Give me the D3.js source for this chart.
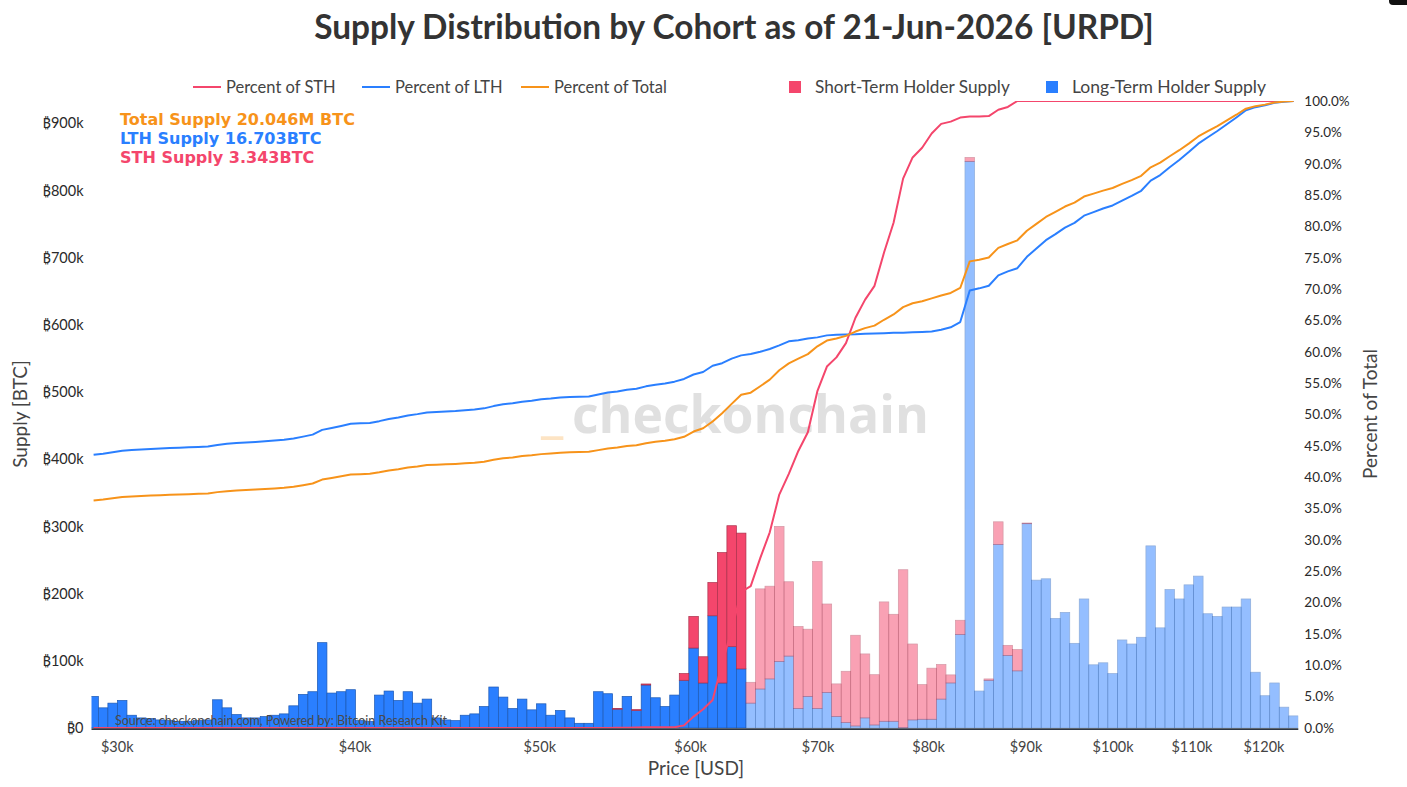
<!DOCTYPE html>
<html>
<head>
<meta charset="utf-8">
<title>Supply Distribution by Cohort [URPD]</title>
<script src="https://d3js.org/d3.v7.min.js"></script>
<style>
  body { margin: 0; background: #fff; }
  svg text { font-family: Lato, "Noto Sans", "DejaVu Sans", sans-serif; }
</style>
</head>
<body>
<div id="chart"></div>
<script>
// price bins (bin centre, USD) – log spaced buckets
const binPrices = [
  29174, 29512, 29854, 30200, 30549, 30903, 31261, 31623, 31989, 32359,
  32734, 33113, 33497, 33884, 34277, 34674, 35075, 35481, 35892, 36308,
  36728, 37154, 37584, 38019, 38459, 38905, 39355, 39811, 40272, 40738,
  41210, 41687, 42170, 42658, 43152, 43652, 44157, 44668, 45186, 45709,
  46238, 46774, 47315, 47863, 48417, 48978, 49545, 50119, 50699, 51286,
  51880, 52481, 53088, 53703, 54325, 54954, 55590, 56234, 56885, 57544,
  58210, 58884, 59566, 60256, 60954, 61660, 62373, 63096, 63826, 64565,
  65313, 66069, 66834, 67608, 68391, 69183, 69984, 70795, 71614, 72444,
  73282, 74131, 74989, 75858, 76736, 77625, 78524, 79433, 80353, 81283,
  82224, 83176, 84140, 85114, 86099, 87096, 88105, 89125, 90157, 91201,
  92257, 93325, 94406, 95499, 96605, 97724, 98855, 100000, 101158, 102329,
  103514, 104713, 105925, 107152, 108393, 109648, 110917, 112202, 113501, 114815,
  116145, 117490, 118850, 120226, 121619, 123027, 124451
];

// long-term holder supply per bin, thousand BTC
const lthSupplyK = [
  47, 30, 37, 41, 19, 15, 14, 12, 11, 10,
  10, 11, 12, 42, 30, 20, 15, 15, 17, 19,
  21, 33, 50, 54, 127, 52, 54, 57, 11, 10,
  49, 55, 41, 54, 37, 43, 15, 12, 11, 19,
  21, 32, 61, 46, 29, 43, 27, 36, 19, 26,
  15, 7, 7, 54, 51, 28, 47, 26, 64, 45,
  32, 49, 71, 119, 67, 167, 67, 121, 88, 37,
  58, 73, 99, 107, 29, 47, 29, 53, 17, 8,
  3, 15, 4.5, 10, 10, 0.5, 12, 13, 13, 43,
  67, 139, 843, 55, 71, 273, 108, 85, 304, 220,
  222, 163, 172, 126, 192, 94, 97, 81, 131, 125,
  135, 271, 149, 206, 192, 213, 226, 170, 166, 180,
  180, 192, 83, 48, 67, 31, 18
];

// short-term holder supply per bin, thousand BTC
const sthSupplyK = [
  0, 0, 0, 0, 0, 0, 0, 0, 0, 0,
  0, 0, 0, 0, 0, 0, 0, 0, 0, 0,
  0, 0, 0, 0, 0, 0, 0, 0, 0, 0,
  0, 0, 0, 0, 0, 0, 0, 0, 0, 0,
  0, 0, 0, 0, 0, 0, 0, 0, 0, 0,
  0, 0, 0, 0, 0, 1, 0, 1.5, 1.5, 0,
  0, 0, 10, 47, 39, 49.5, 194, 180, 202, 31,
  149, 138, 201, 110.6, 122, 100, 218.7, 131.5, 48.6, 76.4,
  135, 95.2, 74.8, 177.6, 159.2, 235, 113, 51.5, 76, 51.5,
  12, 21.3, 6, 0, 2, 33.8, 15, 31.7, 1, 0,
  0, 0, 0, 0, 0, 0, 0, 0, 0, 0,
  0, 0, 0, 0, 0, 0, 0, 0, 0, 0,
  0, 0, 0, 0, 0, 0, 0
];

// cumulative percentages per bin (right axis)
const sthPct = [
  0, 0, 0, 0, 0, 0, 0, 0, 0, 0,
  0, 0, 0, 0, 0, 0, 0, 0, 0, 0,
  0, 0, 0, 0, 0, 0, 0, 0, 0, 0,
  0, 0, 0, 0, 0, 0, 0, 0, 0, 0,
  0, 0, 0, 0, 0, 0, 0, 0, 0, 0,
  0, 0, 0, 0, 0, 0.03, 0.03, 0.07, 0.12, 0.12,
  0.12, 0.12, 0.42, 1.82, 2.99, 4.47, 10.27, 15.66, 21.70, 22.63,
  27.09, 31.21, 37.23, 40.54, 44.19, 47.18, 53.72, 57.65, 59.11, 61.39,
  65.43, 68.28, 70.52, 75.83, 80.59, 87.62, 91.00, 92.54, 94.82, 96.35,
  96.71, 97.35, 97.53, 97.53, 97.59, 98.60, 99.05, 100, 100, 100,
  100, 100, 100, 100, 100, 100, 100, 100, 100, 100,
  100, 100, 100, 100, 100, 100, 100, 100, 100, 100,
  100, 100, 100, 100, 100, 100, 100
];

const lthPct = [
  43.57, 43.75, 43.97, 44.21, 44.33, 44.42, 44.50, 44.57, 44.64, 44.70,
  44.76, 44.82, 44.90, 45.15, 45.33, 45.45, 45.54, 45.63, 45.73, 45.84,
  45.97, 46.17, 46.47, 46.79, 47.55, 47.86, 48.18, 48.52, 48.59, 48.65,
  48.94, 49.27, 49.52, 49.84, 50.06, 50.32, 50.41, 50.48, 50.55, 50.66,
  50.79, 50.98, 51.34, 51.62, 51.79, 52.05, 52.21, 52.43, 52.54, 52.70,
  52.79, 52.83, 52.87, 53.19, 53.50, 53.67, 53.95, 54.10, 54.49, 54.76,
  54.95, 55.24, 55.67, 56.38, 56.78, 57.78, 58.18, 58.91, 59.43, 59.65,
  60.00, 60.44, 61.03, 61.67, 61.85, 62.13, 62.30, 62.62, 62.72, 62.77,
  62.79, 62.87, 62.90, 62.96, 63.02, 63.03, 63.10, 63.17, 63.25, 63.51,
  63.91, 64.74, 69.79, 70.12, 70.54, 72.18, 72.82, 73.33, 75.15, 76.47,
  77.80, 78.78, 79.81, 80.56, 81.71, 82.27, 82.85, 83.34, 84.12, 84.87,
  85.68, 87.30, 88.19, 89.43, 90.58, 91.85, 93.20, 94.22, 95.22, 96.29,
  97.37, 98.52, 99.02, 99.31, 99.71, 99.89, 100
];

const totalPct = [
  36.30, 36.45, 36.64, 36.84, 36.94, 37.01, 37.08, 37.14, 37.19, 37.24,
  37.29, 37.35, 37.41, 37.62, 37.77, 37.87, 37.94, 38.02, 38.10, 38.20,
  38.30, 38.47, 38.72, 38.99, 39.62, 39.88, 40.15, 40.43, 40.49, 40.54,
  40.78, 41.06, 41.26, 41.53, 41.71, 41.93, 42.00, 42.06, 42.12, 42.21,
  42.32, 42.48, 42.78, 43.01, 43.16, 43.37, 43.50, 43.68, 43.78, 43.91,
  43.98, 44.02, 44.05, 44.32, 44.58, 44.72, 44.96, 45.09, 45.42, 45.65,
  45.81, 46.05, 46.45, 47.28, 47.81, 48.89, 50.19, 51.69, 53.14, 53.48,
  54.51, 55.56, 57.06, 58.15, 58.90, 59.63, 60.87, 61.79, 62.12, 62.54,
  63.23, 63.78, 64.17, 65.11, 65.95, 67.13, 67.75, 68.07, 68.52, 68.99,
  69.38, 70.18, 74.42, 74.69, 75.05, 76.58, 77.20, 77.78, 79.30, 80.40,
  81.50, 82.32, 83.17, 83.80, 84.76, 85.23, 85.71, 86.12, 86.77, 87.39,
  88.07, 89.42, 90.16, 91.19, 92.15, 93.21, 94.34, 95.19, 96.01, 96.91,
  97.81, 98.77, 99.18, 99.42, 99.76, 99.91, 100
];

// bins above the current price are shown faded
const spotPrice = 64200;

const xTicks = [30000, 40000, 50000, 60000, 70000, 80000, 90000, 100000, 110000, 120000];
const supplyTicksK = [0, 100, 200, 300, 400, 500, 600, 700, 800, 900];
const pctTicks = [0, 5, 10, 15, 20, 25, 30, 35, 40, 45, 50, 55, 60, 65, 70, 75, 80, 85, 90, 95, 100];

const titleText = "Supply Distribution by Cohort as of 21-Jun-2026 [URPD]";
const summaryLines = ["Total Supply 20.046M BTC", "LTH Supply 16.703BTC", "STH Supply 3.343BTC"];
const lineLegend = ["Percent of STH", "Percent of LTH", "Percent of Total"];
const barLegend = ["Short-Term Holder Supply", "Long-Term Holder Supply"];

// colours
const RED = "#f4466c", BLUE = "#2a7fff", ORANGE = "#f7931a";

const width = 1407, height = 787;
const plot = { left: 91.5, right: 1298.3, top: 101, bottom: 728 };

const svg = d3.select("#chart").append("svg")
  .attr("width", width)
  .attr("height", height);

// shrink/grow a text so it spans a given width
function fitWidth(sel, target) {
  const w = sel.node().getComputedTextLength();
  const fs = parseFloat(sel.attr("font-size"));
  const nfs = fs * target / w;
  sel.attr("font-size", nfs.toFixed(2));
  return nfs;
}

// scales
const x = d3.scaleLog().domain([29100, 125170]).range([plot.left, plot.right]);
const y = d3.scaleLinear().domain([0, 933]).range([plot.bottom, plot.top]);
const y2 = d3.scaleLinear().domain([0, 100]).range([plot.bottom, plot.top]);

svg.append("defs").append("clipPath").attr("id", "plotClip")
  .append("rect")
  .attr("x", plot.left).attr("y", plot.top)
  .attr("width", plot.right - plot.left)
  .attr("height", plot.bottom - plot.top + 0.5);

// watermark
svg.append("text")
  .attr("x", 541).attr("y", 431)
  .attr("font-size", 54).attr("font-weight", 700)
  .style("font-family", "'Open Sans', 'Noto Sans', sans-serif")
  .attr("fill", "#fde4c4")
  .text("_");
const wm = svg.append("text")
  .attr("x", 572).attr("y", 433)
  .attr("font-size", 54).attr("font-weight", 700)
  .style("font-family", "'Open Sans', 'Noto Sans', sans-serif")
  .attr("fill", "#e0e0e0")
  .text("checkonchain");
fitWidth(wm, 357);

// build bin records
const bins = binPrices.map((p, i) => ({
  price: p,
  lth: lthSupplyK[i],
  sth: sthSupplyK[i],
  faded: p > spotPrice
}));
const barW = x(binPrices[1]) - x(binPrices[0]);

const barG = svg.append("g").attr("clip-path", "url(#plotClip)");

// LTH bars (bottom of stack)
barG.selectAll(".lth")
  .data(bins.filter((d) => d.lth > 0))
  .enter()
  .append("rect")
  .attr("class", "lth")
  .attr("x", (d) => x(d.price) - barW / 2)
  .attr("width", barW)
  .attr("y", (d) => y(d.lth))
  .attr("height", (d) => y(0) - y(d.lth))
  .attr("fill", BLUE)
  .attr("stroke", d3.color(BLUE).darker(1))
  .attr("stroke-width", 0.7)
  .attr("opacity", (d) => (d.faded ? 0.5 : 1));

// STH bars stacked on top
barG.selectAll(".sth")
  .data(bins.filter((d) => d.sth > 0))
  .enter()
  .append("rect")
  .attr("class", "sth")
  .attr("x", (d) => x(d.price) - barW / 2)
  .attr("width", barW)
  .attr("y", (d) => y(d.lth + d.sth))
  .attr("height", (d) => y(d.lth) - y(d.lth + d.sth))
  .attr("fill", RED)
  .attr("stroke", d3.color(RED).darker(1))
  .attr("stroke-width", 0.7)
  .attr("opacity", (d) => (d.faded ? 0.5 : 1));

// cumulative percent lines
const lineSeries = [
  { name: lineLegend[0], values: sthPct, color: RED },
  { name: lineLegend[1], values: lthPct, color: BLUE },
  { name: lineLegend[2], values: totalPct, color: ORANGE }
];
const line = d3.line()
  .x((d) => x(d[0]))
  .y((d) => y2(d[1]));

const lineG = svg.append("g").attr("clip-path", "url(#plotClip)");
lineG.selectAll("path")
  .data(lineSeries)
  .enter()
  .append("path")
  .attr("d", (s) => line(binPrices.map((p, i) => [p, s.values[i]])))
  .attr("fill", "none")
  .attr("stroke", (s) => s.color)
  .attr("stroke-width", 2)
  .attr("stroke-linejoin", "round");

// x axis line
svg.append("line")
  .attr("x1", plot.left).attr("x2", plot.right)
  .attr("y1", plot.bottom + 1.2).attr("y2", plot.bottom + 1.2)
  .attr("stroke", "#2f3844")
  .attr("stroke-width", 1.8);

// source note
svg.append("text")
  .attr("x", 115).attr("y", 725)
  .attr("font-size", 12.5)
  .attr("fill", "#4a4a4a")
  .text("Source: checkonchain.com, Powered by: Bitcoin Research Kit");

// axes
const xAxis = svg.append("g")
  .attr("transform", `translate(0,${plot.bottom})`)
  .call(d3.axisBottom(x).tickValues(xTicks).tickSize(0).tickPadding(14)
    .tickFormat((d) => "$" + d / 1000 + "k"));
const yAxis = svg.append("g")
  .attr("transform", `translate(${plot.left},0)`)
  .call(d3.axisLeft(y).tickValues(supplyTicksK).tickSize(0).tickPadding(8)
    .tickFormat((d) => (d === 0 ? "\u20BF0" : "\u20BF" + d + "k")));
const y2Axis = svg.append("g")
  .attr("transform", `translate(${plot.right},0)`)
  .call(d3.axisRight(y2).tickValues(pctTicks).tickSize(0).tickPadding(6)
    .tickFormat((d) => d3.format(".1f")(d) + "%"));

[xAxis, yAxis, y2Axis].forEach((g) => {
  g.select(".domain").remove();
  g.selectAll("text")
    .attr("font-family", null)
    .style("font-family", "Lato, 'Noto Sans', 'DejaVu Sans', sans-serif")
    .attr("fill", "#2a2a2a");
});
xAxis.selectAll("text").attr("font-size", 14.5).attr("fill", "#444");
yAxis.selectAll("text").attr("font-size", 14.5);
y2Axis.selectAll("text").attr("font-size", 13.5);

// axis titles
svg.append("text")
  .attr("x", 696).attr("y", 775)
  .attr("text-anchor", "middle")
  .attr("font-size", 19)
  .attr("fill", "#444")
  .text("Price [USD]");
svg.append("text")
  .attr("transform", "translate(27,414) rotate(-90)")
  .attr("text-anchor", "middle")
  .attr("font-size", 19)
  .attr("fill", "#444")
  .text("Supply [BTC]");
svg.append("text")
  .attr("transform", "translate(1377,414) rotate(-90)")
  .attr("text-anchor", "middle")
  .attr("font-size", 19)
  .attr("fill", "#444")
  .text("Percent of Total");

// title
const title = svg.append("text")
  .attr("x", 734).attr("y", 39)
  .attr("text-anchor", "middle")
  .attr("font-size", 31)
  .attr("font-weight", 700)
  .attr("fill", "#333")
  .text(titleText);
fitWidth(title, 840);

// legend: lines
const lineLegendX = [193, 362, 521];
lineSeries.forEach((s, i) => {
  const lx = lineLegendX[i];
  svg.append("line")
    .attr("x1", lx).attr("x2", lx + 28)
    .attr("y1", 87).attr("y2", 87)
    .attr("stroke", s.color).attr("stroke-width", 2);
  svg.append("text")
    .attr("x", lx + 33).attr("y", 92.5)
    .attr("font-size", 16.5)
    .attr("fill", "#444")
    .text(s.name);
});

// legend: bars
const barLegendX = [789, 1046];
[RED, BLUE].forEach((c, i) => {
  const lx = barLegendX[i];
  svg.append("rect")
    .attr("x", lx).attr("y", 81)
    .attr("width", 12).attr("height", 12)
    .attr("fill", c);
  const t = svg.append("text")
    .attr("x", lx + 26).attr("y", 92.5)
    .attr("font-size", 16.5)
    .attr("fill", "#444")
    .text(barLegend[i]);
  fitWidth(t, i === 0 ? 195 : 194);
});

// supply summary annotation
const summaryColors = [ORANGE, BLUE, RED];
let summarySize = 16;
summaryLines.forEach((t, i) => {
  const s = svg.append("text")
    .attr("x", 120).attr("y", 124.5 + i * 19)
    .attr("font-size", summarySize)
    .attr("font-weight", 700)
    .style("font-family", "'DejaVu Sans', Verdana, sans-serif")
    .attr("fill", summaryColors[i])
    .text(t);
  if (i === 0) summarySize = fitWidth(s, 235);
});

// corner artefact (cropped toolbar button)
svg.append("rect")
  .attr("x", 1389).attr("y", -8)
  .attr("width", 22).attr("height", 13)
  .attr("rx", 4)
  .attr("fill", "#111");
</script>
</body>
</html>
